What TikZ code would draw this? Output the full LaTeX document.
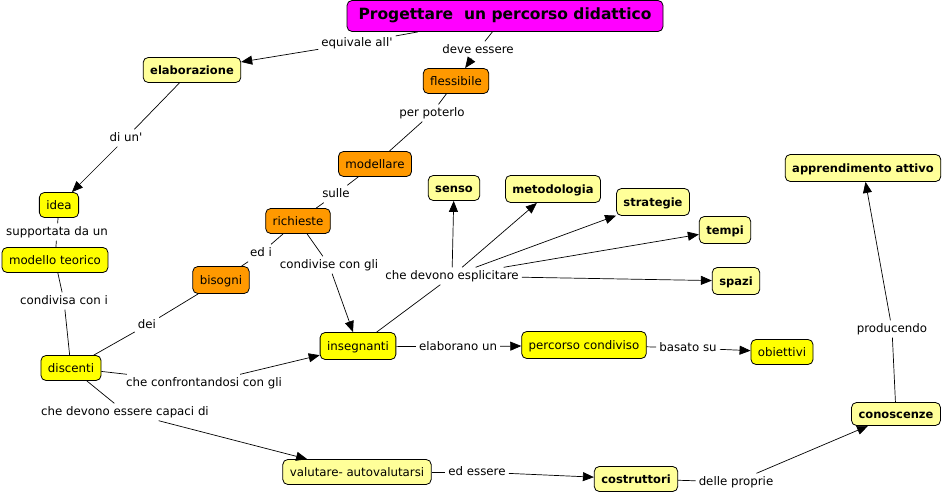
\documentclass[tikz,border=0pt]{standalone}
\usepackage{fontspec}
\setmainfont{DejaVu Sans}
\usetikzlibrary{arrows.meta}
\definecolor{chiaro}{HTML}{FFFF99}
\definecolor{giallo}{HTML}{FFFF00}
\definecolor{arancio}{HTML}{FF9900}
\definecolor{magenta}{HTML}{FF00FF}
\begin{document}
\begin{tikzpicture}[x=1pt, y=-1pt, font=\fontsize{11.8}{13}\selectfont, line join=round, >={Triangle[length=11pt,width=9pt]},
  concetto/.style={draw, line width=0.8pt, rounded corners=5pt, inner xsep=7pt, minimum height=25pt, text height=10pt, text depth=1pt},
  chiaroc/.style={concetto, fill=chiaro, font=\fontsize{11.5}{13}\selectfont\bfseries},
  chiaron/.style={concetto, fill=chiaro},
  gialloc/.style={concetto, fill=giallo},
  aranc/.style={concetto, fill=arancio},
  frase/.style={inner sep=3pt, text height=9pt, text depth=2pt},
  linea/.style={line width=0.7pt}]
\useasboundingbox (0,0) rectangle (946,494);
% concetti
\node[concetto, fill=magenta, font=\fontsize{15.5}{17}\selectfont\bfseries, minimum height=31pt, minimum width=316pt, text height=11pt, text depth=3pt] (tit) at (505,16) {Progettare\ \ un percorso didattico};
\node[chiaroc] (elab) at (192,70) {elaborazione};
\node[aranc] (fles) at (456,81) {flessibile};
\node[aranc] (mod) at (375,164) {modellare};
\node[chiaroc] (sens) at (454,188) {senso};
\node[chiaroc, minimum height=27pt] (met) at (553,189) {metodologia};
\node[chiaroc, minimum height=27pt] (strat) at (653,202) {strategie};
\node[chiaroc, minimum height=27pt] (temp) at (725,230) {tempi};
\node[chiaroc, minimum height=27pt] (spaz) at (736,281) {spazi};
\node[chiaroc, minimum height=27pt] (appr) at (863,168) {apprendimento attivo};
\node[gialloc] (idea) at (59,205) {idea};
\node[aranc] (rich) at (298,221) {richieste};
\node[gialloc] (mt) at (55,260) {modello teorico};
\node[aranc, minimum height=27pt] (bis) at (221,280) {bisogni};
\node[gialloc] (disc) at (71,368) {discenti};
\node[gialloc, minimum height=27pt] (ins) at (358,346) {insegnanti};
\node[gialloc, minimum height=27pt] (perc) at (584,345) {percorso condiviso};
\node[gialloc] (obi) at (782,352) {obiettivi};
\node[chiaroc, minimum height=23pt] (con) at (896,414) {conoscenze};
\node[chiaron] (val) at (357,472) {valutare- autovalutarsi};
\node[chiaroc] (cost) at (636,479) {costruttori};
% frasi di collegamento
\node[frase] (f1) at (357,43) {equivale all\textquotesingle};
\node[frase] (f2) at (478,50) {deve essere};
\node[frase] (f3) at (126,138) {di un\textquotesingle};
\node[frase] (f4) at (432,113) {per poterlo};
\node[frase] (f5) at (336,194) {sulle};
\node[frase] (f6) at (57,232) {supportata da un};
\node[frase] (f7) at (261,253) {ed i};
\node[frase] (f8) at (329,265) {condivise con gli};
\node[frase] (f9) at (452,276) {che devono esplicitare};
\node[frase] (f10) at (64,301) {condivisa con i};
\node[frase] (f11) at (147,325) {dei};
\node[frase] (f12) at (458,347) {elaborano un};
\node[frase] (f13) at (688,348) {basato su};
\node[frase] (f14) at (892,329) {producendo};
\node[frase] (f15) at (204,383) {che confrontandosi con gli};
\node[frase] (f16) at (125,412) {che devono essere capaci di};
\node[frase] (f17) at (477,472) {ed essere};
\node[frase] (f18) at (736,482) {delle proprie};
% collegamenti
\draw[linea] (tit) -- (f1); \draw[linea,->] (f1) -- (elab);
\draw[linea] (tit) -- (f2); \draw[linea,->] (f2) -- (fles);
\draw[linea] (elab) -- (f3); \draw[linea,->] (f3) -- (idea);
\draw[linea] (fles) -- (f4) -- (mod);
\draw[linea] (mod) -- (f5) -- (rich);
\draw[linea] (idea) -- (f6) -- (mt);
\draw[linea] (rich) -- (f7) -- (bis);
\draw[linea] (rich) -- (f8); \draw[linea,->] (f8) -- (ins);
\draw[linea] (mt) -- (f10) -- (disc);
\draw[linea] (bis) -- (f11) -- (disc);
\draw[linea] (disc) -- (f15); \draw[linea,->] (f15) -- (ins);
\draw[linea] (disc) -- (f16); \draw[linea,->] (f16) -- (val);
\draw[linea] (ins) -- (f9);
\foreach \d in {sens,met,strat,temp,spaz}
  \draw[linea,->] (f9) -- (\d);
\draw[linea] (ins) -- (f12); \draw[linea,->] (f12) -- (perc);
\draw[linea] (perc) -- (f13); \draw[linea,->] (f13) -- (obi);
\draw[linea] (val) -- (f17); \draw[linea,->] (f17) -- (cost);
\draw[linea] (cost) -- (f18); \draw[linea,->] (f18) -- (con);
\draw[linea] (con) -- (f14); \draw[linea,->] (f14) -- (appr);
\end{tikzpicture}
\end{document}
